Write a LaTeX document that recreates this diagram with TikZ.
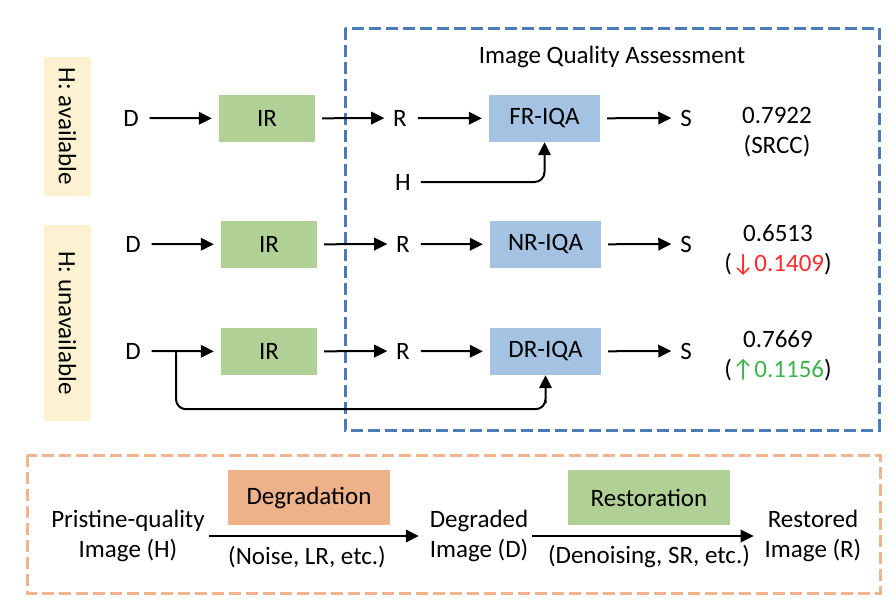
\documentclass[tikz,border=0pt]{standalone}
\usepackage{fontspec}
\setmainfont{Carlito}
\usetikzlibrary{arrows.meta,calc}
\definecolor{ylw}{HTML}{FCF2D2}
\definecolor{grn}{HTML}{B0D095}
\definecolor{blu}{HTML}{A4C3E2}
\definecolor{bdash}{HTML}{4A7DB8}
\definecolor{ofill}{HTML}{EDB28A}
\definecolor{odash}{HTML}{F1B48C}
\definecolor{redt}{HTML}{FF2A2A}
\definecolor{grnt}{HTML}{3CB44B}
\tikzset{
  txt/.style={inner sep=0pt, outer sep=0pt},
  ybox/.style={fill=ylw, inner sep=0pt, rotate=-90},
  irbox/.style={fill=grn, minimum width=96pt, minimum height=47pt, inner sep=0pt},
  qbox/.style={fill=blu, minimum width=111pt, minimum height=47pt, inner sep=0pt},
  bigbox/.style={minimum width=162pt, minimum height=55pt, inner sep=0pt},
  arr/.style={-{Triangle[length=13pt,width=12.5pt]}, line width=2pt},
  fromtxt/.style={shorten <=11pt},
  totxt/.style={shorten >=9pt},
  frombox/.style={shorten <=7pt},
  tobox/.style={shorten >=7pt},
}
\begin{document}
\begin{tikzpicture}[x=1pt,y=-1pt,font=\fontsize{25}{30}\selectfont]
\useasboundingbox (0,0) rectangle (895,605);

% frames
\draw[bdash, line width=3pt, dash pattern=on 12pt off 5pt] (345,28) rectangle (879,430);
\draw[odash, line width=3pt, dash pattern=on 12pt off 5pt] (27,455) rectangle (880,593);

% side labels
\node[ybox, minimum width=139pt, minimum height=47pt] (lab1) at (67.5,126.5) {H: available};
\node[ybox, minimum width=196pt, minimum height=47pt] (lab2) at (67.5,323) {H: unavailable};

\node[txt] (iqa) at (612,57) {Image Quality Assessment};

% row 1
\node[txt] (d1) at (131,118) {D};
\node[irbox] (ir1) at (267,118.5) {IR};
\node[txt] (r1) at (400,118) {R};
\node[qbox] (fr) at (544.5,118.5) {FR-IQA};
\node[txt] (s1) at (686,118) {S};
\node[txt, align=center] (v1) at (777,132) {0.7922\\(SRCC)};
\node[txt] (h1) at (403,182) {H};
\draw[arr, fromtxt, tobox] (d1) -- (ir1);
\draw[arr, frombox, totxt] (ir1) -- (r1);
\draw[arr, fromtxt, tobox] (r1) -- (fr);
\draw[arr, frombox, totxt] (fr) -- (s1);
\draw[arr, rounded corners=10pt, shorten <=10pt] (h1.east) -| (fr.south);

% row 2
\node[txt] (d2) at (133,244) {D};
\node[irbox] (ir2) at (269,244.5) {IR};
\node[txt] (r2) at (403,244) {R};
\node[qbox] (nr) at (545.5,244.5) {NR-IQA};
\node[txt] (s2) at (686,244) {S};
\node[txt, align=center] (v2) at (778,250) {0.6513\\(\textcolor{redt}{↓0.1409})};
\draw[arr, fromtxt, tobox] (d2) -- (ir2);
\draw[arr, frombox, totxt] (ir2) -- (r2);
\draw[arr, fromtxt, tobox] (r2) -- (nr);
\draw[arr, frombox, totxt] (nr) -- (s2);

% row 3
\node[txt] (d3) at (133,351) {D};
\node[irbox] (ir3) at (269,351.5) {IR};
\node[txt] (r3) at (403,351) {R};
\node[qbox] (dr) at (545.5,351.5) {DR-IQA};
\node[txt] (s3) at (686,351) {S};
\node[txt, align=center] (v3) at (778,356) {0.7669\\(\textcolor{grnt}{↑0.1156})};
\coordinate (br) at (176,351);
\draw[arr, fromtxt, tobox] (d3) -- (ir3);
\draw[arr, frombox, totxt] (ir3) -- (r3);
\draw[arr, fromtxt, tobox] (r3) -- (dr);
\draw[arr, frombox, totxt] (dr) -- (s3);
\draw[arr, rounded corners=10pt] (br) |- ($(dr.south)+(0,34)$) -| (dr.south);

% bottom legend
\node[txt, align=center] (ph) at (128,536) {Pristine-quality\\Image (H)};
\node[bigbox, fill=ofill] (dg) at (309,497.5) {Degradation};
\node[txt] (nz) at (307,557) {(Noise, LR, etc.)};
\node[txt, align=center] (dd) at (479,536) {Degraded\\Image (D)};
\node[bigbox, fill=grn] (rs) at (649,497.5) {Restoration};
\node[txt] (dn) at (649,557) {(Denoising, SR, etc.)};
\node[txt, align=center] (rr) at (813,536) {Restored\\Image (R)};
\draw[arr, shorten <=4pt, shorten >=11pt] (ph.east) -- (dd.west);
\draw[arr, shorten <=4pt, shorten >=11pt] (dd.east) -- (rr.west);
\end{tikzpicture}
\end{document}
